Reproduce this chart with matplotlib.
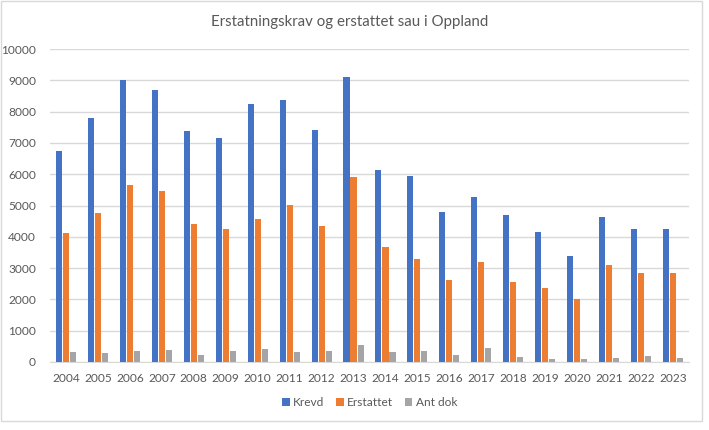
import matplotlib
matplotlib.use("Agg")
import matplotlib.pyplot as plt
import numpy as np
from matplotlib.patches import Rectangle

years = ["2004", "2005", "2006", "2007", "2008", "2009", "2010", "2011", "2012", "2013",
         "2014", "2015", "2016", "2017", "2018", "2019", "2020", "2021", "2022", "2023"]
krevd = [6750, 7800, 9020, 8700, 7390, 7160, 8250, 8380, 7420, 9110,
         6140, 5950, 4800, 5280, 4700, 4160, 3390, 4640, 4250, 4250]
erstattet = [4130, 4770, 5660, 5470, 4410, 4250, 4570, 5020, 4350, 5920,
             3680, 3290, 2620, 3200, 2560, 2370, 2010, 3100, 2850, 2850]
ant_dok = [320, 290, 350, 380, 220, 350, 410, 320, 350, 540,
           320, 350, 220, 450, 160, 100, 100, 130, 190, 130]
series_names = ["Krevd", "Erstattet", "Ant dok"]
colors = ["#4472C4", "#ED7D31", "#A5A5A5"]

plt.rcParams['font.family'] = ['Lato', 'DejaVu Sans']
text_color = "#595959"

fig = plt.figure(figsize=(7.09, 4.30), dpi=100)
ax = fig.add_axes([50/709, 1-362/430, (689-50)/709, (362-49)/430])

x = np.arange(len(years))
w = 0.19
off = 0.22
for i, (vals, name) in enumerate(zip([krevd, erstattet, ant_dok], series_names)):
    ax.bar(x + (i-1)*off, vals, width=w, color=colors[i], label=name, zorder=3)

ax.set_xlim(-0.5, len(years)-0.5)
ax.set_ylim(0, 10000)
ax.set_yticks(np.arange(0, 10001, 1000))
ax.set_xticks(x)
ax.set_xticklabels(years)
ax.yaxis.grid(True, color="#D9D9D9", linewidth=1, zorder=0)
for s in ["top", "right", "left"]:
    ax.spines[s].set_visible(False)
ax.spines["bottom"].set_color("#D9D9D9")
ax.tick_params(axis="both", length=0, colors=text_color, labelsize=8.6)
ax.tick_params(axis="x", pad=8)
ax.tick_params(axis="y", pad=10)

fig.text(350/709, 1-22/430, "Erstatningskrav og erstattet sau i Oppland", ha="center",
         va="center", fontsize=10.8, color=text_color)

leg = fig.legend(loc="center", bbox_to_anchor=(370/709, 1-403/430), ncol=3, frameon=False,
                 fontsize=8.6, handlelength=0.6, handleheight=0.6, handletextpad=0.3,
                 columnspacing=1.0)
for t in leg.get_texts():
    t.set_color(text_color)

fig.patches.append(Rectangle((1/709, 1-421/430), 701/709, 420/430, transform=fig.transFigure,
                             fill=False, edgecolor="#D9D9D9", linewidth=1))

fig.savefig("out.png", dpi=100, facecolor="white")
